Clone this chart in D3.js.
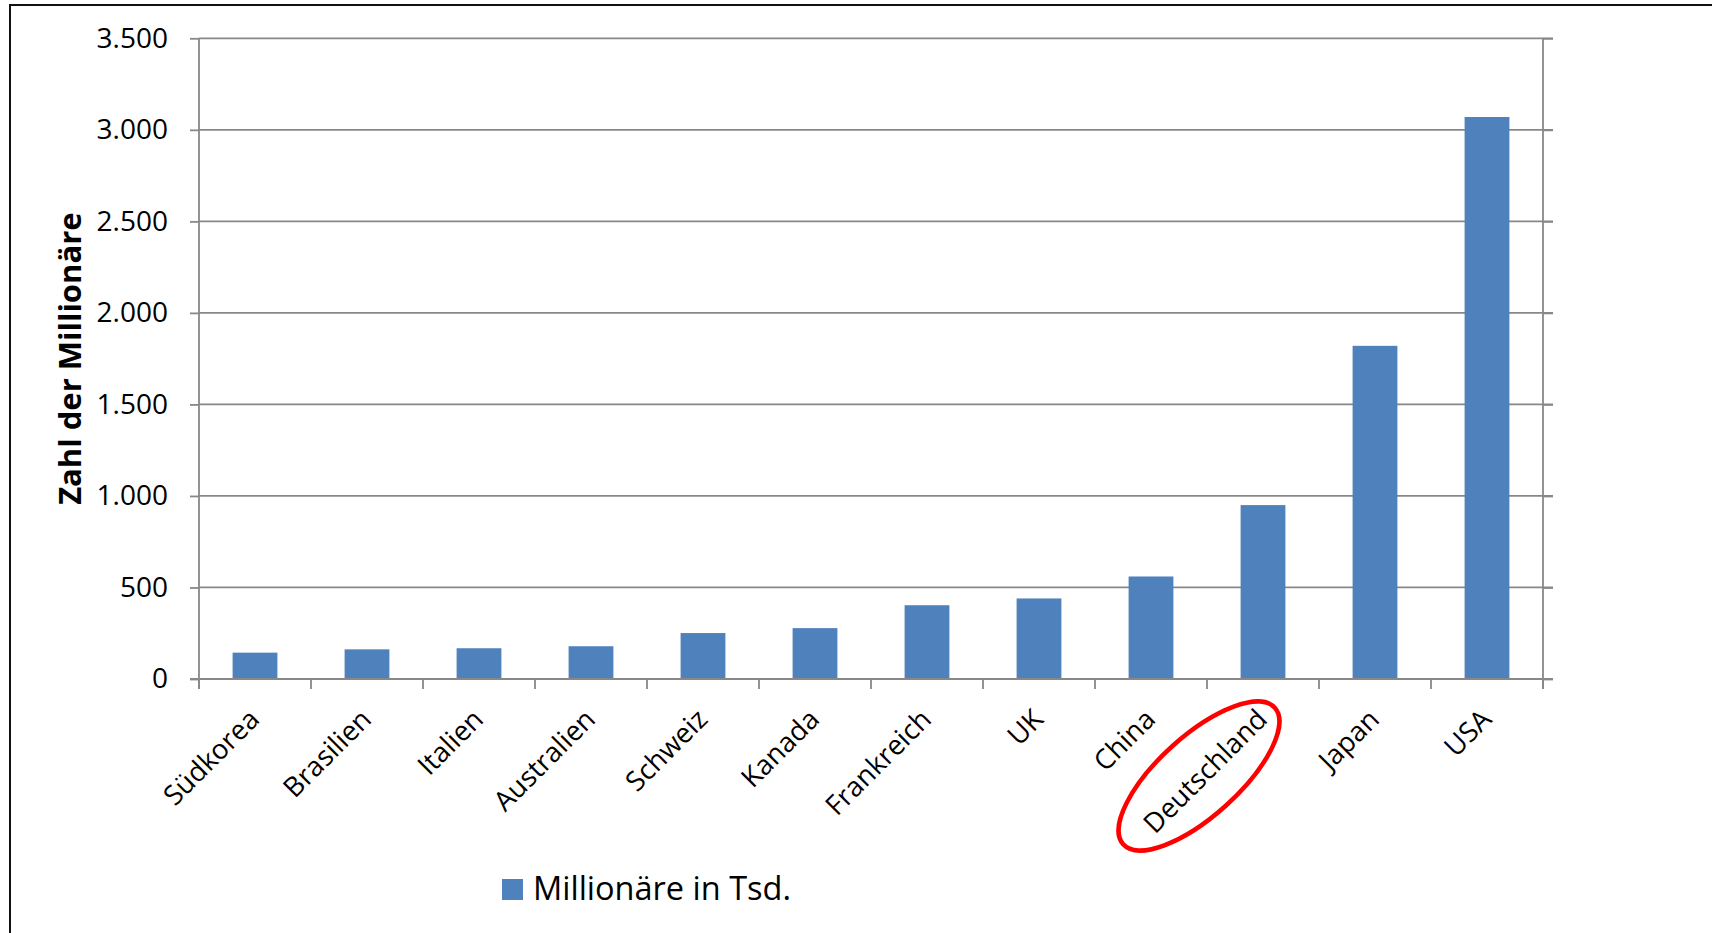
<!DOCTYPE html>
<html>
<head>
<meta charset="utf-8">
<script src="https://cdn.jsdelivr.net/npm/d3@7"></script>
<style>
  html, body { margin: 0; padding: 0; background: #fff; }
  svg { display: block; }
  text { font-family: "Open Sans", "Noto Sans", sans-serif; fill: #000; }
</style>
</head>
<body>
<svg id="chart" width="1712" height="933"></svg>
<script>
// Millionaires per country (thousands)
const categories = ["Südkorea", "Brasilien", "Italien", "Australien", "Schweiz", "Kanada",
                    "Frankreich", "UK", "China", "Deutschland", "Japan", "USA"];
const millionaires = [144, 162, 168, 179, 251, 278, 403, 440, 560, 950, 1820, 3070];
const yTicks = [0, 500, 1000, 1500, 2000, 2500, 3000, 3500];
const seriesName = "Millionäre in Tsd.";
const yTitle = "Zahl der Millionäre";
const highlighted = "Deutschland";

const data = categories.map((c, i) => ({ name: c, value: millionaires[i] }));

const svg = d3.select("#chart");
const plot = { left: 199, right: 1543, top: 38.3, bottom: 679 };
const gridColor = "#888888";

const de = d3.formatLocale({ decimal: ",", thousands: ".", grouping: [3], currency: ["", " €"] });
const fmt = de.format(",");

const x = d3.scaleBand()
  .domain(categories)
  .range([plot.left, plot.right])
  .paddingInner(0.6)
  .paddingOuter(0.3);

const y = d3.scaleLinear()
  .domain([0, 3500])
  .range([plot.bottom, plot.top]);

// outer frame of the chart object
svg.append("rect")
  .attr("x", 10).attr("y", 5)
  .attr("width", 1720).attr("height", 960)
  .attr("fill", "none").attr("stroke", "#111").attr("stroke-width", 2);

// horizontal gridlines, running through the right-hand tick marks
svg.append("g")
  .selectAll("line")
  .data(yTicks)
  .join("line")
  .attr("x1", plot.left).attr("x2", plot.right + 10)
  .attr("y1", d => y(d)).attr("y2", d => y(d))
  .attr("stroke", gridColor).attr("stroke-width", 1.8);

// left value axis
const yAxis = svg.append("g")
  .attr("transform", `translate(${plot.left},0)`)
  .call(d3.axisLeft(y).tickValues(yTicks).tickSize(9).tickPadding(22).tickFormat(fmt));
yAxis.select(".domain").attr("stroke", gridColor).attr("stroke-width", 1.8)
  .attr("d", `M0,${plot.top}V${plot.bottom + 10}`);
yAxis.selectAll(".tick line").attr("stroke", gridColor).attr("stroke-width", 1.8);
yAxis.selectAll(".tick text")
  .attr("font-size", 28)
  .attr("fill", "#000")
  .style("font-family", '"Open Sans", sans-serif');

// right frame line with outward ticks
const yAxisR = svg.append("g")
  .attr("transform", `translate(${plot.right},0)`)
  .call(d3.axisRight(y).tickValues(yTicks).tickSize(10).tickFormat(""));
yAxisR.select(".domain").attr("stroke", gridColor).attr("stroke-width", 1.8)
  .attr("d", `M0,${plot.top}V${plot.bottom + 10}`);
yAxisR.selectAll(".tick line").attr("stroke", gridColor).attr("stroke-width", 1.8);

// bars
svg.append("g")
  .selectAll("rect")
  .data(data)
  .join("rect")
  .attr("x", d => x(d.name))
  .attr("width", x.bandwidth())
  .attr("y", d => y(d.value))
  .attr("height", d => y(0) - y(d.value))
  .attr("fill", "#4F81BD");

// category axis: baseline and boundary ticks
const gap = (x.step() - x.bandwidth()) / 2;
const bounds = categories.map(c => x(c) - gap).concat([x(categories[categories.length - 1]) + x.bandwidth() + gap]);
svg.append("line")
  .attr("x1", plot.left - 9).attr("x2", plot.right + 10)
  .attr("y1", y(0)).attr("y2", y(0))
  .attr("stroke", gridColor).attr("stroke-width", 2);
svg.append("g")
  .selectAll("line")
  .data(bounds)
  .join("line")
  .attr("x1", d => d).attr("x2", d => d)
  .attr("y1", y(0)).attr("y2", y(0) + 10)
  .attr("stroke", gridColor).attr("stroke-width", 1.8);

// rotated category labels
svg.append("g")
  .selectAll("text")
  .data(categories)
  .join("text")
  .attr("transform", c => `translate(${x(c) + x.bandwidth() / 2 + 6},${y(0) + 42}) rotate(-45)`)
  .attr("text-anchor", "end")
  .attr("font-size", 27.5)
  .text(c => c);

// highlight ring around one category label
const hx = x(highlighted) + x.bandwidth() / 2;
svg.append("ellipse")
  .attr("transform", `translate(${hx - 64},${y(0) + 97}) rotate(-42)`)
  .attr("rx", 102).attr("ry", 40)
  .attr("fill", "none").attr("stroke", "#ff0000").attr("stroke-width", 4.5);

// value axis title
svg.append("text")
  .attr("transform", `translate(81,${(plot.top + plot.bottom) / 2}) rotate(-90)`)
  .attr("text-anchor", "middle")
  .attr("font-size", 31)
  .attr("font-weight", "bold")
  .text(yTitle);

// legend
svg.append("rect")
  .attr("x", 502).attr("y", 879)
  .attr("width", 21).attr("height", 21)
  .attr("fill", "#4F81BD");
svg.append("text")
  .attr("x", 533).attr("y", 900)
  .attr("font-size", 32.5)
  .text(seriesName);
</script>
</body>
</html>
